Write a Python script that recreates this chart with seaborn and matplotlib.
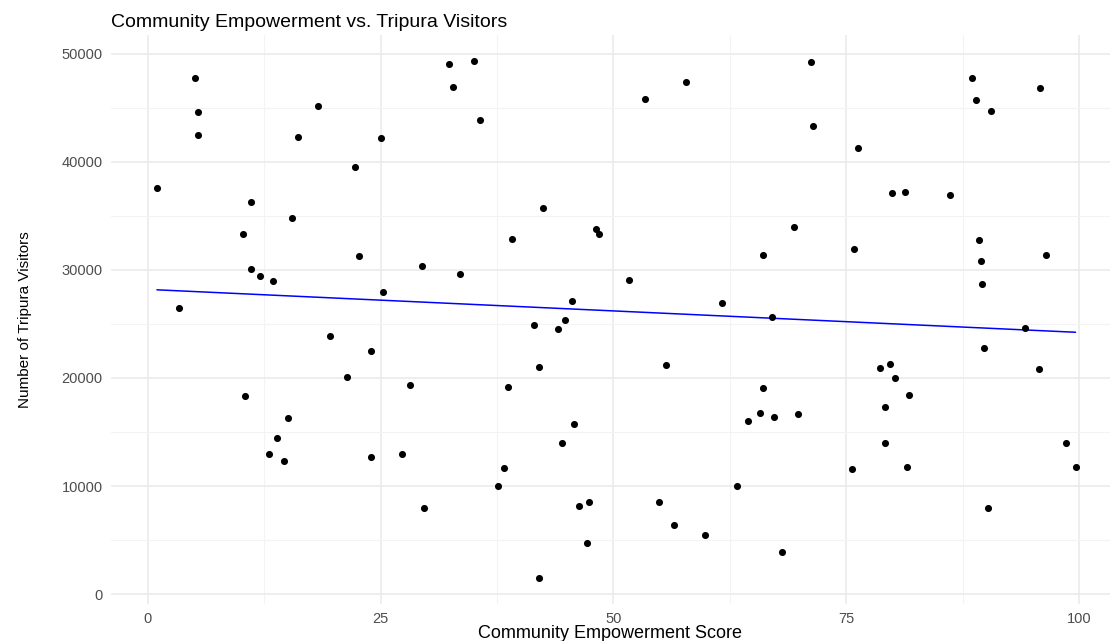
import numpy as np
import pandas as pd
import matplotlib
matplotlib.use("Agg")
import matplotlib.pyplot as plt
from matplotlib.ticker import MultipleLocator
import seaborn as sns

# values
empowerment_score = [
    1.0, 3.4, 5.1, 5.4, 5.4, 10.2, 10.4, 11.1, 11.1, 12.1,
    13.0, 13.5, 13.9, 14.6, 15.1, 15.5, 16.1, 18.3, 19.6, 21.4,
    22.3, 22.7, 24.0, 24.0, 25.1, 25.3, 27.3, 28.2, 29.5, 29.7,
    32.4, 32.8, 33.5, 35.0, 35.7, 37.6, 38.2, 38.7, 39.1, 41.5,
    42.0, 42.0, 42.4, 44.0, 44.5, 44.8, 45.5, 45.8, 46.3, 47.2,
    47.4, 48.1, 48.4, 51.7, 53.4, 54.9, 55.6, 56.5, 57.8, 59.8,
    61.7, 63.3, 64.4, 65.7, 66.1, 66.1, 67.0, 67.2, 68.1, 69.4,
    69.8, 71.2, 71.4, 75.6, 75.8, 76.2, 78.6, 79.1, 79.1, 79.7,
    79.9, 80.2, 81.3, 81.5, 81.7, 86.1, 88.5, 88.9, 89.2, 89.4,
    89.6, 89.8, 90.2, 90.5, 94.2, 95.7, 95.8, 96.4, 98.6, 99.6,
]
tripura_visitors = [
    37600, 26500, 47750, 44600, 42500, 33300, 18300, 36300, 30100, 29450,
    13000, 29000, 14450, 12300, 16250, 34800, 42300, 45150, 23850, 20050,
    39550, 31250, 22500, 12650, 42150, 27950, 13000, 19350, 30350, 7950,
    49000, 46950, 29650, 49300, 43850, 10000, 11700, 19200, 32850, 24900,
    21050, 1500, 35700, 24550, 14000, 25350, 27150, 15700, 8200, 4700,
    8500, 33750, 33300, 29100, 45800, 8550, 21150, 6400, 47400, 5450,
    26950, 10000, 16050, 16750, 19100, 31350, 25600, 16350, 3900, 34000,
    16700, 49200, 43300, 11600, 31900, 41250, 20900, 17300, 14000, 21250,
    37100, 20000, 37200, 11800, 18400, 36900, 47750, 45700, 32750, 30800,
    28650, 22750, 7950, 44650, 24650, 20800, 46800, 31350, 14000, 11800,
]
x_ticks = [0, 25, 50, 75, 100]
y_ticks = [0, 10000, 20000, 30000, 40000, 50000]

df = pd.DataFrame({"Community_Empowerment": empowerment_score,
                   "Tripura_Visitors": tripura_visitors})

sns.set_theme(style="white")
plt.rcParams['font.family'] = ['Liberation Sans', 'DejaVu Sans']

fig = plt.figure(figsize=(11.1, 6.41), dpi=100)
ax = fig.add_axes([0.1, 0.058, 0.9, 0.887])

sns.scatterplot(data=df, x="Community_Empowerment", y="Tripura_Visitors",
                color="black", s=26, edgecolor=None, linewidth=0, ax=ax, zorder=3)
sns.regplot(data=df, x="Community_Empowerment", y="Tripura_Visitors",
            scatter=False, ci=None, color="blue", line_kws={"linewidth": 1.1}, ax=ax)

ax.set_xlim(-3.93, 103.3)
ax.set_ylim(-890, 51690)
ax.set_xticks(x_ticks)
ax.set_yticks(y_ticks)
ax.xaxis.set_minor_locator(MultipleLocator(12.5))
ax.yaxis.set_minor_locator(MultipleLocator(5000))
ax.grid(which="major", color="#EBEBEB", linewidth=1.2)
ax.grid(which="minor", color="#F3F3F3", linewidth=0.8)
ax.set_axisbelow(True)
for s in ax.spines.values():
    s.set_visible(False)
ax.tick_params(which="both", length=0)
ax.tick_params(axis="both", labelsize=10.5, labelcolor="#4D4D4D", pad=6)

ax.set_title("Community Empowerment vs. Tripura Visitors", loc="left",
             fontsize=14, color="black", pad=6)
ax.set_xlabel("Community Empowerment Score", fontsize=13, color="black", labelpad=-1)
ax.set_ylabel("Number of Tripura Visitors", fontsize=11, color="black", labelpad=21)

fig.savefig("out.png", dpi=100)
